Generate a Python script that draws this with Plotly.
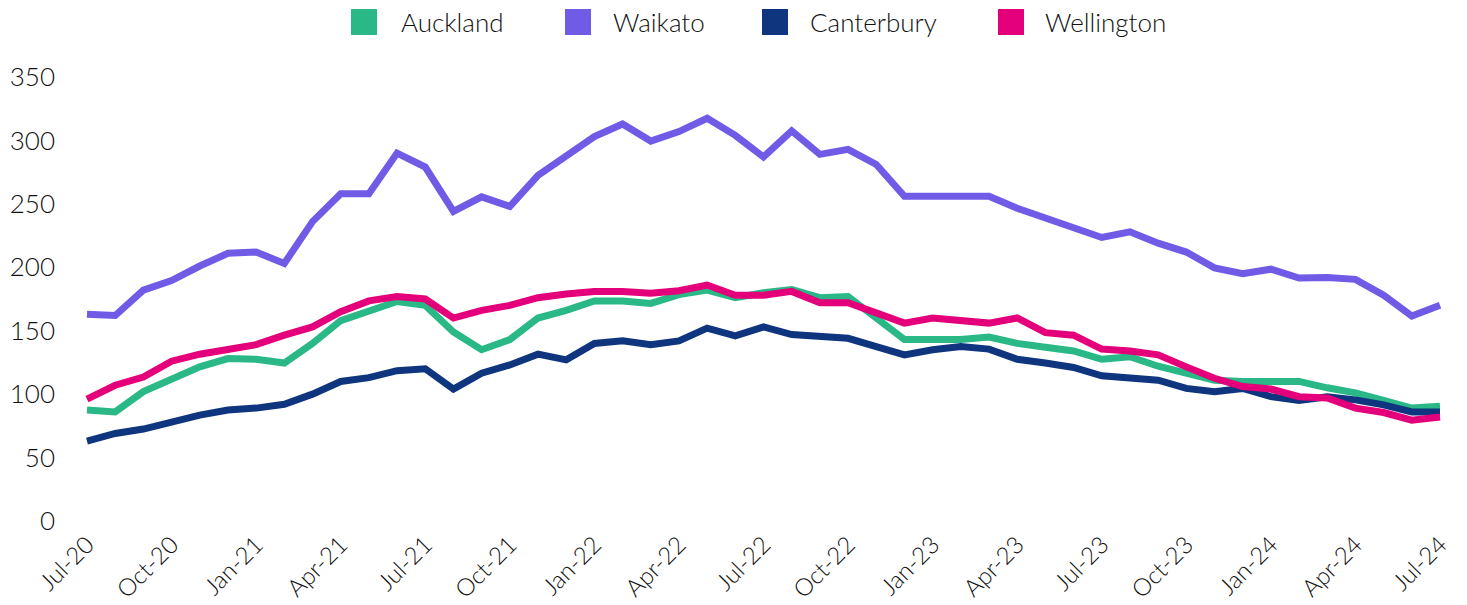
import plotly.graph_objects as go

months = ["Jul-20", "Aug-20", "Sep-20", "Oct-20", "Nov-20", "Dec-20",
          "Jan-21", "Feb-21", "Mar-21", "Apr-21", "May-21", "Jun-21",
          "Jul-21", "Aug-21", "Sep-21", "Oct-21", "Nov-21", "Dec-21",
          "Jan-22", "Feb-22", "Mar-22", "Apr-22", "May-22", "Jun-22",
          "Jul-22", "Aug-22", "Sep-22", "Oct-22", "Nov-22", "Dec-22",
          "Jan-23", "Feb-23", "Mar-23", "Apr-23", "May-23", "Jun-23",
          "Jul-23", "Aug-23", "Sep-23", "Oct-23", "Nov-23", "Dec-23",
          "Jan-24", "Feb-24", "Mar-24", "Apr-24", "May-24", "Jun-24",
          "Jul-24"]

auckland = [87.5, 86, 102, 112.5, 121.5, 128, 127.5, 124.5, 140, 158, 166, 173, 170,
            149, 135, 143, 160, 166, 173.5, 173.5, 171.5, 178.5, 182, 176,
            180, 182.5, 176, 177, 160, 143, 143, 143, 145, 140, 137, 134,
            127.5, 129.5, 122, 117, 111, 110, 110.5, 110, 105, 101, 95, 89, 90.5]
waikato = [163, 162, 182, 189.5, 201, 211, 212, 203, 236, 258, 258, 290, 279,
           244, 255.5, 248, 272.5, 288.5, 303, 313, 299.5, 307, 317.5, 304,
           287, 307.5, 289, 293, 281, 256, 256, 256, 256, 246.5, 238.5, 231,
           223.5, 228, 219, 212, 199.5, 195, 198.5, 191.5, 192, 190.5, 178, 161.5, 170]
canterbury = [63, 69, 72.5, 78, 83.5, 87.5, 89, 92, 100, 110, 113, 118.5, 120,
              104, 116.5, 123, 131.5, 127, 140, 142, 139, 142, 152, 146,
              153, 147, 146, 144, 137.5, 131, 135, 137.5, 135.5, 127.5, 124.5, 121,
              114.5, 113, 111, 104.5, 102, 104.5, 98, 95, 98, 95.5, 91.5, 86, 86]
wellington = [96, 107, 113.5, 126, 131.5, 135, 139, 146.5, 153, 165, 173.5, 177, 175,
              160, 166, 170, 176, 179, 181, 181, 179.5, 181.5, 186, 178,
              178, 181, 172, 172, 164, 156, 160, 158.5, 156, 160, 148.5, 146.5,
              135.5, 134, 131, 121.5, 112.5, 106, 104, 98, 97, 89, 85.5, 79.5, 82]

series_names = ["Auckland", "Waikato", "Canterbury", "Wellington"]
series_values = [auckland, waikato, canterbury, wellington]
colors = ["#29B886", "#705BE6", "#0E357E", "#E4007A"]

x = list(range(len(months)))
tick_idx = list(range(0, len(months), 3))
tick_text = [months[i] for i in tick_idx]

FONT = "Lato"
TEXT = "#111111"
FS = 26
FS_X = 24
WEIGHT = 300

fig = go.Figure()
for name, vals, col in zip(series_names, series_values, colors):
    fig.add_trace(go.Scatter(
        x=x, y=vals, name=name, mode="lines",
        line=dict(color=col, width=7, shape="linear"),
        showlegend=False,
    ))

# Plot geometry (pixels) used for the custom legend
L, R, T, B = 79, 18, 77, 84
W = 1467 - L - R
H = 605 - T - B

def px_x(p):
    return (p - L) / W

def px_y(p):
    return (605 - B - p) / H

legend_sq_left = [351, 565, 762, 998]
legend_txt_left = [399, 611, 808, 1043]
sq = 26
sq_top = 9
for name, col, sx, tx in zip(series_names, colors, legend_sq_left, legend_txt_left):
    fig.add_shape(type="rect", xref="paper", yref="paper",
                  x0=px_x(sx), x1=px_x(sx + sq),
                  y0=px_y(sq_top + sq), y1=px_y(sq_top),
                  fillcolor=col, line=dict(width=0), layer="above")
    fig.add_annotation(text=name, xref="paper", yref="paper",
                       x=px_x(tx), y=px_y(sq_top + sq / 2),
                       xanchor="left", yanchor="middle", showarrow=False,
                       font=dict(family=FONT, size=FS, color=TEXT, weight=WEIGHT))

k = (1440 - 87) / 48.0
x0 = -(87 - L) / k
x1 = x0 + W / k

fig.update_layout(
    width=1467, height=605,
    margin=dict(l=L, r=R, t=T, b=B, autoexpand=False),
    paper_bgcolor="white", plot_bgcolor="white",
    font=dict(family=FONT, size=FS, color=TEXT, weight=WEIGHT),
    showlegend=False,
    xaxis=dict(
        range=[x0, x1], tickmode="array", tickvals=tick_idx, ticktext=tick_text,
        tickangle=-45, showgrid=False, zeroline=False, showline=False,
        ticks="", tickfont=dict(family=FONT, size=FS_X, color=TEXT, weight=WEIGHT),
        ticklabelstandoff=4, automargin=False,
    ),
    yaxis=dict(
        range=[0, 350], tickmode="array", tickvals=[0, 50, 100, 150, 200, 250, 300, 350],
        showgrid=False, zeroline=False, showline=False, ticks="",
        tickfont=dict(family=FONT, size=FS, color=TEXT, weight=WEIGHT),
        ticklabelstandoff=23, automargin=False,
    ),
)

fig.write_html(
    "out.html",
    config={"displayModeBar": False},
    post_script="document.body.style.margin='0';document.body.style.padding='0';"
                "document.documentElement.style.overflow='hidden';",
)
